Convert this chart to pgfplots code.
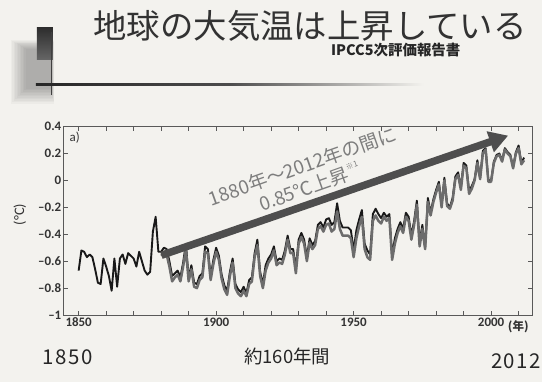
\documentclass[border=0pt]{standalone}
\usepackage{pgfplots}
\pgfplotsset{compat=1.18}
\usepackage{fontspec}
\setmainfont{Noto Sans CJK JP}
\newfontfamily\carlito{Carlito}
\usetikzlibrary{arrows.meta}

\definecolor{bg}{RGB}{243,242,238}
\definecolor{curveblack}{RGB}{25,25,25}
\definecolor{curvegray}{RGB}{108,108,108}
\definecolor{arrowgray}{RGB}{78,78,78}
\definecolor{notegray}{RGB}{125,125,125}
\definecolor{titlegray}{RGB}{50,50,50}

% HadCRUT-type annual anomalies (black), 1850-2012
\pgfplotstableread{
year anom
1850 -0.67
1851 -0.52
1852 -0.53
1853 -0.57
1854 -0.55
1855 -0.57
1856 -0.66
1857 -0.76
1858 -0.77
1859 -0.58
1860 -0.64
1861 -0.71
1862 -0.82
1863 -0.58
1864 -0.79
1865 -0.58
1866 -0.55
1867 -0.62
1868 -0.54
1869 -0.56
1870 -0.58
1871 -0.64
1872 -0.53
1873 -0.60
1874 -0.67
1875 -0.70
1876 -0.68
1877 -0.38
1878 -0.27
1879 -0.53
1880 -0.53
1881 -0.50
1882 -0.51
1883 -0.60
1884 -0.71
1885 -0.69
1886 -0.67
1887 -0.72
1888 -0.61
1889 -0.47
1890 -0.72
1891 -0.63
1892 -0.76
1893 -0.77
1894 -0.71
1895 -0.69
1896 -0.49
1897 -0.51
1898 -0.71
1899 -0.59
1900 -0.50
1901 -0.56
1902 -0.70
1903 -0.78
1904 -0.82
1905 -0.68
1906 -0.58
1907 -0.77
1908 -0.81
1909 -0.83
1910 -0.79
1911 -0.84
1912 -0.74
1913 -0.72
1914 -0.54
1915 -0.44
1916 -0.68
1917 -0.77
1918 -0.63
1919 -0.58
1920 -0.55
1921 -0.49
1922 -0.60
1923 -0.58
1924 -0.59
1925 -0.52
1926 -0.41
1927 -0.51
1928 -0.51
1929 -0.65
1930 -0.44
1931 -0.39
1932 -0.44
1933 -0.57
1934 -0.43
1935 -0.48
1936 -0.45
1937 -0.33
1938 -0.31
1939 -0.35
1940 -0.29
1941 -0.28
1942 -0.33
1943 -0.31
1944 -0.17
1945 -0.30
1946 -0.35
1947 -0.35
1948 -0.35
1949 -0.37
1950 -0.52
1951 -0.37
1952 -0.29
1953 -0.22
1954 -0.47
1955 -0.52
1956 -0.55
1957 -0.25
1958 -0.21
1959 -0.25
1960 -0.28
1961 -0.24
1962 -0.27
1963 -0.25
1964 -0.56
1965 -0.43
1966 -0.36
1967 -0.31
1968 -0.36
1969 -0.24
1970 -0.27
1971 -0.41
1972 -0.30
1973 -0.15
1974 -0.46
1975 -0.33
1976 -0.50
1977 -0.13
1978 -0.24
1979 -0.14
1980 -0.07
1981 -0.01
1982 -0.18
1983 0.02
1984 -0.17
1985 -0.20
1986 -0.13
1987 0.03
1988 0.06
1989 -0.05
1990 0.13
1991 0.11
1992 -0.08
1993 -0.04
1994 0.01
1995 0.15
1996 0.02
1997 0.22
1998 0.24
1999 0.00
2000 0.00
2001 0.14
2002 0.19
2003 0.20
2004 0.15
2005 0.24
2006 0.21
2007 0.19
2008 0.10
2009 0.21
2010 0.26
2011 0.13
2012 0.17
}\blackseries

% other datasets (gray), 1880-2012
\pgfplotstableread{
year anom
1880 -0.56
1881 -0.54
1882 -0.55
1883 -0.64
1884 -0.75
1885 -0.72
1886 -0.70
1887 -0.75
1888 -0.64
1889 -0.51
1890 -0.75
1891 -0.66
1892 -0.79
1893 -0.80
1894 -0.74
1895 -0.72
1896 -0.53
1897 -0.54
1898 -0.74
1899 -0.62
1900 -0.53
1901 -0.59
1902 -0.73
1903 -0.81
1904 -0.85
1905 -0.71
1906 -0.61
1907 -0.80
1908 -0.84
1909 -0.86
1910 -0.82
1911 -0.86
1912 -0.77
1913 -0.75
1914 -0.57
1915 -0.48
1916 -0.71
1917 -0.80
1918 -0.67
1919 -0.61
1920 -0.58
1921 -0.52
1922 -0.63
1923 -0.61
1924 -0.62
1925 -0.55
1926 -0.44
1927 -0.54
1928 -0.54
1929 -0.69
1930 -0.47
1931 -0.42
1932 -0.47
1933 -0.60
1934 -0.46
1935 -0.51
1936 -0.48
1937 -0.36
1938 -0.34
1939 -0.38
1940 -0.33
1941 -0.32
1942 -0.38
1943 -0.36
1944 -0.23
1945 -0.36
1946 -0.41
1947 -0.41
1948 -0.41
1949 -0.43
1950 -0.57
1951 -0.43
1952 -0.34
1953 -0.27
1954 -0.51
1955 -0.57
1956 -0.59
1957 -0.30
1958 -0.26
1959 -0.30
1960 -0.32
1961 -0.27
1962 -0.30
1963 -0.28
1964 -0.59
1965 -0.47
1966 -0.39
1967 -0.34
1968 -0.39
1969 -0.27
1970 -0.30
1971 -0.44
1972 -0.33
1973 -0.18
1974 -0.49
1975 -0.36
1976 -0.51
1977 -0.16
1978 -0.26
1979 -0.16
1980 -0.09
1981 -0.03
1982 -0.20
1983 0.00
1984 -0.19
1985 -0.21
1986 -0.15
1987 0.01
1988 0.04
1989 -0.07
1990 0.11
1991 0.09
1992 -0.10
1993 -0.06
1994 0.00
1995 0.13
1996 0.01
1997 0.20
1998 0.23
1999 -0.01
2000 -0.01
2001 0.13
2002 0.18
2003 0.19
2004 0.14
2005 0.23
2006 0.20
2007 0.18
2008 0.09
2009 0.20
2010 0.24
2011 0.12
2012 0.15
}\grayseries

\begin{document}
\begin{tikzpicture}[x=1pt,y=1pt]
% page background
\fill[bg] (0,0) rectangle (544,383);

% header decoration: soft gray block, dark square, cross lines
\foreach \d in {0,1.5,...,15}
  \fill[black, opacity=0.028] (26-\d,294-\d) rectangle (52+0.15*\d,334+0.6*\d);
\shade[top color=black!82, bottom color=black!60] (37,323) rectangle (53,355);
\draw[black!75, line width=0.9pt] (52,288) -- (52,351);
\shade[left color=black!85, right color=bg, middle color=black!70] (36,297.3) rectangle (425,298.9);

% title and source
\node[text=titlegray, font=\fontsize{33.5}{36}\selectfont] at (311,357) {地球の大気温は上昇している};
\node[text=black!85, font=\bfseries\fontsize{14.5}{16}\selectfont] at (397,333) {IPCC5次評価報告書};

\begin{axis}[
  at={(64pt,67pt)}, anchor=south west,
  scale only axis, width=470pt, height=189pt,
  xmin=1844.6, xmax=2015, ymin=-1, ymax=0.4,
  axis background/.style={fill=bg},
  axis line style={black!65, line width=0.8pt},
  xtick={1850,1860,...,2010},
  xticklabels={1850,,,,,1900,,,,,1950,,,,,2000,},
  ytick={-1,-0.8,-0.6,-0.4,-0.2,0,0.2,0.4},
  yticklabels={–1,–0.8,–0.6,–0.4,–0.2,0,0.2,0.4},
  tick align=inside, major tick length=4pt,
  tick style={black!65, line width=0.7pt},
  xtick pos=both, ytick pos=both,
  /pgf/number format/assume math mode=true,
  ticklabel style={font=\carlito\bfseries\fontsize{13}{14}\selectfont, text=black!80},
  yticklabel style={xshift=1pt},
  xticklabel style={yshift=1pt},
  clip=false,
]
\addplot[curveblack, line width=1.9pt, line join=round] table[x=year,y=anom] {\blackseries};
\addplot[curvegray, line width=2.5pt, line join=round] table[x=year,y=anom] {\grayseries};

\node[anchor=north west, font=\carlito\fontsize{13}{14}\selectfont, text=black!80] at (rel axis cs:0.005,0.99) {a)};

% trend arrow
\draw[arrowgray, line width=7.5pt, -{Triangle[length=19pt,width=21pt]}]
  (axis cs:1880.1,-0.556) -- (axis cs:2006.2,0.333);
\end{axis}

% year unit and y-axis unit
\node[font=\bfseries\fontsize{11.5}{13}\selectfont, text=black!80, anchor=west] at (506,55) {(年)};
\node[font=\carlito\fontsize{14.5}{16}\selectfont, text=black!80, rotate=90] at (20,168) {(°C)};

% annotation along the arrow
\node[text=notegray, rotate=19.6, align=center, font=\fontsize{19}{22}\selectfont] at (307,206)
  {1880年～2012年の間に\\0.85℃上昇\raisebox{0.55em}{\fontsize{8}{9}\selectfont ※1}};

% bottom captions
\node[text=black!85, font=\addfontfeature{LetterSpace=7}\fontsize{20.5}{22}\selectfont] at (68,25) {1850};
\node[text=black!85, font=\fontsize{18.5}{22}\selectfont] at (288,25) {約160年間};
\node[text=black!85, font=\addfontfeature{LetterSpace=7}\fontsize{20.5}{22}\selectfont, anchor=west] at (489,21) {2012};
\end{tikzpicture}
\end{document}
